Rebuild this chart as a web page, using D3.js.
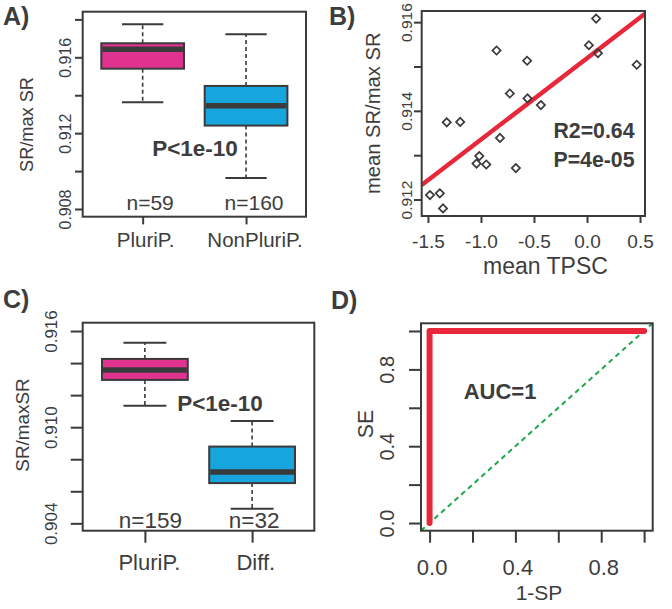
<!DOCTYPE html>
<html><head><meta charset="utf-8">
<script src="https://cdn.jsdelivr.net/npm/d3@7"></script>
<style>
body{margin:0;background:#fff}
svg{display:block}
text{font-family:"Liberation Sans",Arial,Helvetica,sans-serif;fill:#3d3d3d}
</style>
</head><body>
<svg id="chart" width="672" height="609"></svg>
<script>
// ---------- Panel A data ----------
const catsA = ["PluriP.", "NonPluriP."];
const nA = [59, 160];
const loA = [0.91363, 0.90963];
const q1A = [0.91540, 0.91240];
const medA = [0.91642, 0.91344];
const q3A = [0.91674, 0.91449];
const hiA = [0.91774, 0.91721];
const ylimA = [0.907594, 0.918405];
const ticksA = [0.908, 0.910, 0.912, 0.914, 0.916, 0.918];
const labelsA = ["0.908", "0.912", "0.916"];

// ---------- Panel B data ----------
const tpsc = [-1.481, -1.388, -1.358, -1.323, -1.196, -1.016, -1.042, -0.950, -0.821, -0.853,
              -0.728, -0.671, -0.565, -0.561, -0.435, 0.018, 0.086, 0.103, 0.469];
const meanSR = [0.91210, 0.91214, 0.91180, 0.91374, 0.91375, 0.91298, 0.91281, 0.91279, 0.91339, 0.91536,
                0.91439, 0.91271, 0.91513, 0.91428, 0.91413, 0.91548, 0.91608, 0.91530, 0.91504];
const ticksBx = [-1.5, -1.0, -0.5, 0.0, 0.5];
const ticksBy = [0.912, 0.913, 0.914, 0.915, 0.916];
const labelsBy = ["0.912", "0.914", "0.916"];

// ---------- Panel C data ----------
const catsC = ["PluriP.", "Diff."];
const nC = [159, 32];
const loC = [0.91133, 0.90491];
const q1C = [0.91295, 0.90651];
const medC = [0.91357, 0.90720];
const q3C = [0.91426, 0.90879];
const hiC = [0.91527, 0.91039];
const ylimC = [0.90354, 0.91652];
const ticksC = [0.904, 0.906, 0.908, 0.910, 0.912, 0.914, 0.916];
const labelsC = ["0.904", "0.910", "0.916"];

// ---------- Panel D data ----------
const rocFPR = [0, 0, 1];
const rocTPR = [0, 1, 1];
const ticksD = [0, 0.2, 0.4, 0.6, 0.8, 1.0];
const labelsD = ["0.0", "0.4", "0.8"];

// ---------- styles ----------
const INK = "#3a3a3a";
const PINK = "#e0328f";
const BLUE = "#17a5dd";
const RED = "#e8283a";
const GREEN = "#1fa64a";
const fillsBox = [PINK, BLUE];

const svg = d3.select("#chart");

function frame(g, r) {
  g.append("rect").attr("x", r.l).attr("y", r.t).attr("width", r.r - r.l).attr("height", r.b - r.t)
    .attr("fill", "none").attr("stroke", INK).attr("stroke-width", 2);
}

function leftAxis(g, y, r, ticks, labels, fmt, tickLen, labDist, fontSize) {
  const ax = g.append("g").attr("transform", `translate(${r.l},0)`)
    .call(d3.axisLeft(y).tickValues(ticks).tickSize(tickLen).tickFormat(v => labels.includes(fmt(v)) ? fmt(v) : ""));
  ax.select(".domain").remove();
  ax.selectAll("line").attr("stroke", INK).attr("stroke-width", 2);
  ax.selectAll("text").attr("transform", "rotate(-90)").attr("x", 0).attr("y", -labDist)
    .attr("dy", null).attr("text-anchor", "middle").attr("fill", "#3d3d3d")
    .style("font-size", fontSize + "px").style("font-family", null);
  ax.attr("font-family", null).attr("font-size", null);
  return ax;
}

function bottomAxis(g, x, r, ticks, labels, fmt, tickLen, labBase, fontSize, dx) {
  const ax = g.append("g").attr("transform", `translate(0,${r.b})`)
    .call(d3.axisBottom(x).tickValues(ticks).tickSize(tickLen).tickFormat(v => labels.includes(fmt(v)) ? fmt(v) : ""));
  ax.select(".domain").remove();
  ax.selectAll("line").attr("stroke", INK).attr("stroke-width", 2);
  ax.selectAll("text").attr("y", labBase).attr("dy", null).attr("dx", dx || 0).attr("fill", "#3d3d3d")
    .style("font-size", fontSize + "px");
  ax.attr("font-family", null).attr("font-size", null);
  return ax;
}

function txt(g, x, y, s, size, opts = {}) {
  const t = g.append("text").attr("x", x).attr("y", y).text(s)
    .attr("text-anchor", opts.anchor || "middle")
    .style("font-size", size + "px");
  if (opts.bold) t.style("font-weight", "bold");
  if (opts.rot) t.attr("transform", `rotate(-90,${x},${y})`);
  return t;
}

function boxPanel(cfg) {
  const g = svg.append("g");
  const r = cfg.rect;
  const x = d3.scaleLinear().domain([0.42, 2.58]).range([r.l, r.r]);
  const y = d3.scaleLinear().domain(cfg.ylim).range([r.b, r.t]);
  const idx = cfg.cats.map((c, i) => i);
  const bw = x(0.8) - x(0);
  const items = g.selectAll("g.box").data(idx).join("g");
  items.append("line").attr("x1", i => x(i + 1)).attr("x2", i => x(i + 1))
    .attr("y1", i => y(cfg.q3[i])).attr("y2", i => y(cfg.hi[i]))
    .attr("stroke", INK).attr("stroke-width", 1.6).attr("stroke-dasharray", "4,3");
  items.append("line").attr("x1", i => x(i + 1)).attr("x2", i => x(i + 1))
    .attr("y1", i => y(cfg.q1[i])).attr("y2", i => y(cfg.lo[i]))
    .attr("stroke", INK).attr("stroke-width", 1.6).attr("stroke-dasharray", "4,3");
  items.append("line").attr("x1", i => x(i + 1) - bw / 4).attr("x2", i => x(i + 1) + bw / 4)
    .attr("y1", i => y(cfg.hi[i])).attr("y2", i => y(cfg.hi[i])).attr("stroke", INK).attr("stroke-width", 2);
  items.append("line").attr("x1", i => x(i + 1) - bw / 4).attr("x2", i => x(i + 1) + bw / 4)
    .attr("y1", i => y(cfg.lo[i])).attr("y2", i => y(cfg.lo[i])).attr("stroke", INK).attr("stroke-width", 2);
  items.append("rect").attr("x", i => x(i + 1) - bw / 2).attr("width", bw)
    .attr("y", i => y(cfg.q3[i])).attr("height", i => y(cfg.q1[i]) - y(cfg.q3[i]))
    .attr("fill", i => fillsBox[i]).attr("stroke", INK).attr("stroke-width", 2);
  items.append("line").attr("x1", i => x(i + 1) - bw / 2 + 1).attr("x2", i => x(i + 1) + bw / 2 - 1)
    .attr("y1", i => y(cfg.med[i])).attr("y2", i => y(cfg.med[i])).attr("stroke", INK).attr("stroke-width", 5.5);
  frame(g, r);
  const fmt = d3.format(".3f");
  leftAxis(g, y, r, cfg.ticks, cfg.labels, fmt, cfg.tickLen, cfg.labDist, cfg.tickFont);
  const ax = g.append("g").attr("transform", `translate(0,${r.b})`)
    .call(d3.axisBottom(x).tickValues([1, 2]).tickSize(cfg.tickLen).tickFormat(""));
  ax.select(".domain").remove();
  ax.selectAll("line").attr("stroke", INK).attr("stroke-width", 2);
  g.selectAll("text.cat").data(idx).join("text").attr("class", "cat")
    .attr("x", i => x(i + 1) + cfg.catDx[i]).attr("y", cfg.catBase).attr("text-anchor", "middle")
    .style("font-size", cfg.catFont + "px").text(i => cfg.cats[i]);
  g.selectAll("text.nlab").data(idx).join("text").attr("class", "nlab")
    .attr("x", i => x(i + 1) + cfg.nDx[i]).attr("y", cfg.nBase).attr("text-anchor", "middle")
    .style("font-size", cfg.nFont + "px").text(i => "n=" + cfg.n[i]);
  return { g, x, y };
}

// ---------- Panel A ----------
const A = boxPanel({
  rect: { l: 82.7, r: 306, t: 11.7, b: 216.7 },
  cats: catsA, n: nA, lo: loA, q1: q1A, med: medA, q3: q3A, hi: hiA,
  ylim: ylimA, ticks: ticksA, labels: labelsA, tickLen: 7.7, labDist: 12, tickFont: 16,
  catDx: [3, 9], catBase: 246.7, catFont: 20.5, nDx: [7.5, 8], nBase: 210, nFont: 21
});
txt(A.g, 33, 124.5, "SR/max SR", 18.2, { rot: true });
txt(A.g, 195, 156, "P<1e-10", 22.5, { bold: true });
txt(A.g, 3, 25, "A)", 25, { bold: true, anchor: "start" });

// ---------- Panel C ----------
const C = boxPanel({
  rect: { l: 82.7, r: 314.3, t: 322.7, b: 530.7 },
  cats: catsC, n: nC, lo: loC, q1: q1C, med: medC, q3: q3C, hi: hiC,
  ylim: ylimC, ticks: ticksC, labels: labelsC, tickLen: 12, labDist: 26, tickFont: 17,
  catDx: [4.5, 3.7], catBase: 570, catFont: 22, nDx: [5.5, 2], nBase: 527.7, nFont: 22.5
});
txt(C.g, 29, 425, "SR/maxSR", 18.9, { rot: true });
txt(C.g, 220, 410.7, "P<1e-10", 22.5, { bold: true });
txt(C.g, 3, 308, "C)", 25, { bold: true, anchor: "start" });

// ---------- Panel B ----------
{
  const g = svg.append("g");
  const r = { l: 421.7, r: 645, t: 11, b: 216 };
  const ex = (e) => { const d = e[1] - e[0]; return [e[0] - 0.04 * d, e[1] + 0.04 * d]; };
  const x = d3.scaleLinear().domain(ex(d3.extent(tpsc))).range([r.l, r.r]);
  const y = d3.scaleLinear().domain(ex(d3.extent(meanSR))).range([r.b, r.t]);
  const mx = d3.mean(tpsc), my = d3.mean(meanSR);
  let sxy = 0, sxx = 0;
  tpsc.forEach((v, i) => { sxy += (v - mx) * (meanSR[i] - my); sxx += (v - mx) * (v - mx); });
  const slope = sxy / sxx, icpt = my - slope * mx;
  g.append("clipPath").attr("id", "clipB").append("rect")
    .attr("x", r.l).attr("y", r.t).attr("width", r.r - r.l).attr("height", r.b - r.t);
  const xd = x.domain();
  g.append("line").attr("clip-path", "url(#clipB)")
    .attr("x1", x(xd[0])).attr("y1", y(icpt + slope * xd[0]))
    .attr("x2", x(xd[1])).attr("y2", y(icpt + slope * xd[1]))
    .attr("stroke", RED).attr("stroke-width", 4.5);
  const sym = d3.symbol(d3.symbolSquare, 34);
  g.selectAll("path.pt").data(tpsc).join("path").attr("class", "pt")
    .attr("d", sym).attr("transform", (d, i) => `translate(${x(d)},${y(meanSR[i])}) rotate(45)`)
    .attr("fill", "none").attr("stroke", INK).attr("stroke-width", 1.7);
  frame(g, r);
  leftAxis(g, y, r, ticksBy, labelsBy, d3.format(".3f"), 7.7, 9.5, 15.5);
  bottomAxis(g, x, r, ticksBx, ticksBx.map(d3.format(".1f")), d3.format(".1f"), 7, 32.3, 19, 0);
  g.selectAll(".tick text").text(function () { return d3.select(this).text().replace("\u2212", "-"); });
  txt(g, 380, 113.3, "mean SR/max SR", 20.2, { rot: true });
  txt(g, 545.5, 274, "mean TPSC", 23);
  txt(g, 594, 138, "R2=0.64", 21.3, { bold: true });
  txt(g, 594, 167.3, "P=4e-05", 21.3, { bold: true });
  txt(g, 329, 25, "B)", 25, { bold: true, anchor: "start" });
}

// ---------- Panel D ----------
{
  const g = svg.append("g");
  const r = { l: 421, r: 652.7, t: 323.3, b: 530.7 };
  const x = d3.scaleLinear().domain([-0.04, 1.04]).range([r.l, r.r]);
  const y = d3.scaleLinear().domain([-0.04, 1.04]).range([r.b, r.t]);
  const xd = x.domain();
  g.append("line").attr("x1", x(xd[0])).attr("y1", y(xd[0])).attr("x2", x(xd[1])).attr("y2", y(xd[1]))
    .attr("stroke", GREEN).attr("stroke-width", 2).attr("stroke-dasharray", "5,4");
  const line = d3.line().x(i => x(rocFPR[i])).y(i => y(rocTPR[i]));
  g.append("path").attr("d", line(rocFPR.map((v, i) => i)))
    .attr("fill", "none").attr("stroke", RED).attr("stroke-width", 6)
    .attr("stroke-linecap", "round").attr("stroke-linejoin", "round");
  frame(g, r);
  const fmt = d3.format(".1f");
  leftAxis(g, y, r, ticksD, labelsD, fmt, 12, 27, 20);
  bottomAxis(g, x, r, ticksD, labelsD, fmt, 12, 44.3, 22, 2);
  txt(g, 373, 424, "SE", 21.2, { rot: true });
  txt(g, 539, 599.5, "1-SP", 21);
  txt(g, 500, 399, "AUC=1", 22, { bold: true });
  txt(g, 331, 309, "D)", 25, { bold: true, anchor: "start" });
}
</script>
</body></html>
